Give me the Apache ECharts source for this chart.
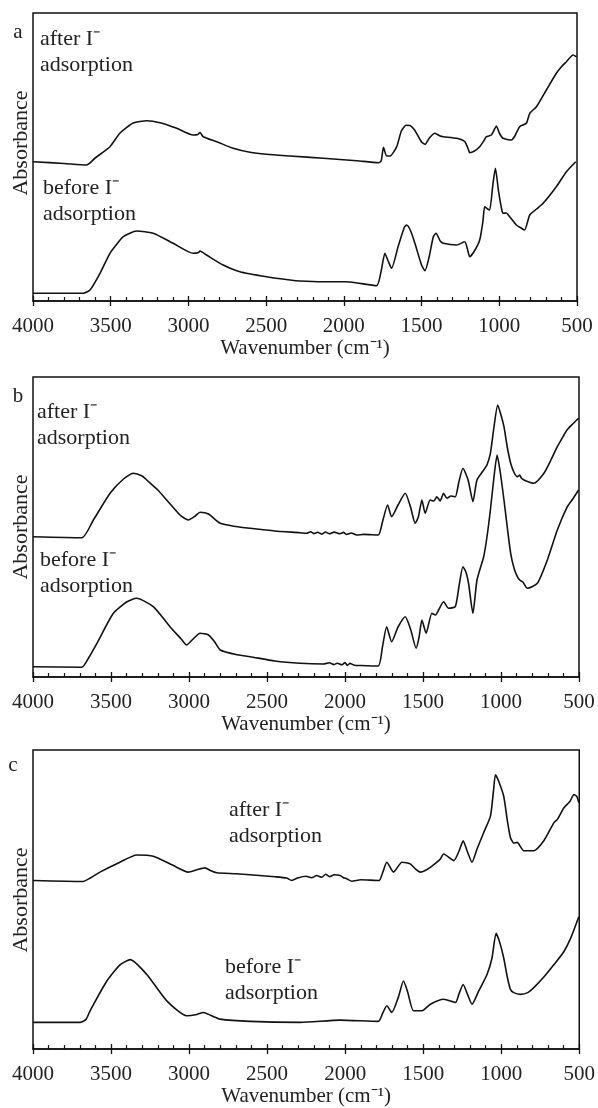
<!DOCTYPE html>
<html>
<head>
<meta charset="utf-8">
<script src="https://cdn.jsdelivr.net/npm/echarts@6/dist/echarts.min.js"></script>
<style>
html,body{margin:0;padding:0;background:#fff;}
#chart{width:598px;height:1108px;}
</style>
</head>
<body>
<div id="chart"></div>
<script>
// ---------- data (wavenumber in cm^-1, absorbance in arbitrary units) ----------
const xTicks = [4000, 3500, 3000, 2500, 2000, 1500, 1000, 500];
const panelLetters = ['a', 'b', 'c'];
const afterLabel = 'after I\u207B\nadsorption';
const beforeLabel = 'before I\u207B\nadsorption';
const xTitle = 'Wavenumber (cm\u207B\u00B9)';
const yTitle = 'Absorbance';

const aAfterWn  = [4000,3800,3655,3600,3505,3440,3355,3268,3183,3075,2970,2940,2926,2905,2818,2712,2604,2497,2346,2132,1917,1778,1760,1745,1725,1703,1660,1630,1600,1574,1550,1532,1500,1478,1450,1414,1380,1360,1274,1222,1200,1190,1160,1126,1100,1083,1051,1030,1019,1000,976,922,900,869,826,804,761,697,633,600,568,525,503];
const aAfterAbs = [139.3,137.5,136,143,154.3,168,178,180.3,178.3,172.7,166,166.5,168.5,164.3,159.3,152.7,148.7,146.7,145,142.7,140.3,138.3,140,153.7,145,145,154.3,170,175.7,175.5,172,167.7,159,156.7,163,167.7,165,164.3,162.7,159.3,152,148.3,150,154.3,160,164.3,166,172,175,168,162.7,161,165,174.3,177.7,187.7,194.3,211,227.7,234.3,239.3,246,244.3];

const aBeforeWn  = [4000,3676,3633,3569,3505,3460,3419,3333,3227,3098,2969,2935,2926,2884,2777,2669,2497,2346,2284,2132,1983,1790,1760,1736,1715,1693,1650,1610,1596,1570,1543,1500,1478,1450,1425,1407,1380,1360,1274,1222,1205,1190,1160,1126,1105,1094,1075,1062,1040,1025,1005,985,976,955,933,890,860,837,804,760,718,633,568,508];
const aBeforeAbs = [7.7,7.7,11,27.7,47.7,57,64.3,70,67.7,57.7,47.7,48.5,50,46,36,29.3,24.3,21,20,19.3,19.3,15.3,30,47.7,40,32.7,55,74,76,70,57.7,36,30.3,45,64,67.7,60,57.7,56,59.3,52,44.3,50,61,80,94.3,92,91,118,132.7,110,92,87.7,88,84.3,76,73,71,86,92,97.7,114.3,129.3,139.3];

const bAfterWn  = [4000,3687,3613,3506,3420,3357,3300,3271,3200,3143,3058,3004,2960,2929,2875,2800,2700,2608,2450,2288,2246,2220,2200,2175,2150,2125,2100,2070,2032,2010,1990,1960,1925,1880,1787,1760,1727,1701,1660,1614,1580,1550,1530,1507,1486,1454,1430,1411,1390,1368,1347,1320,1293,1270,1244,1225,1208,1180,1154,1111,1090,1068,1045,1021,1000,981,960,938,915,895,880,870,853,789,725,680,639,600,577,540,503];
const bAfterAbs = [140.3,139.3,157,183.7,198,203.7,201,197,187,177,162,157,161,164.7,163,153.7,150.5,148.7,146,144.3,143.7,145.2,143.4,144.8,142.9,145,143.2,144.9,143.3,144.6,142.5,144,142,142.6,142,155,172,160.3,172,183.7,170,153.7,160,177,163.7,177,176,180.3,176,183.7,178.7,181,180.3,195,208.7,203,195.3,175.3,197,207,212,223.7,250,272,262,250.3,230,213.7,204,200.3,202,199,197,193.7,203.7,217,230.3,241,247,253,258.7];

const bBeforeWn  = [4000,3688,3640,3590,3485,3400,3336,3229,3122,3050,3015,2980,2929,2875,2835,2800,2700,2608,2450,2288,2139,2100,2070,2050,2020,2000,1985,1968,1940,1900,1787,1760,1733,1701,1660,1614,1580,1544,1525,1507,1480,1443,1420,1400,1368,1336,1293,1270,1244,1225,1208,1180,1154,1111,1090,1068,1045,1025,1005,981,960,938,915,895,880,860,831,767,703,639,575,540,503];
const bBeforeAbs = [10.3,9.7,20,33.7,63.7,75,78.7,70.3,50.3,38,32,37,43.7,42,35,27,22.5,20.3,16,13.7,13,14.2,12.4,13.8,12.2,14.5,11.6,13.6,11.8,11.5,11,30,50.3,35.3,50,60.3,48,28.7,40,57,43.7,63.7,62,67,75.3,68.7,70.3,90,110.3,105,93.7,63.7,97,120.3,140,167,200,222,205,177,150,123.7,108,100.3,97,95,88.7,93.7,117,147,170.3,178,187];

const cAfterWn  = [4000,3678,3630,3571,3443,3336,3229,3101,3005,2950,2898,2860,2823,2700,2610,2450,2375,2343,2300,2250,2215,2182,2150,2125,2100,2070,2032,2010,1990,1957,1900,1783,1760,1733,1690,1636,1583,1550,1519,1487,1450,1412,1390,1369,1304,1270,1244,1219,1187,1155,1112,1069,1050,1037,1015,984,960,941,920,898,855,791,727,662,640,598,560,534,515,503];
const cAfterAbs = [170.3,169.3,173,178.7,188.7,196,194.7,185.3,178.7,181,183,180,178,177,176,174,172.7,170.3,173,174.5,173,175.3,173.5,176.5,174,176,175.3,173,172,169.5,171,170.3,178,188.7,178.7,188.7,187,182,178.7,180.3,184,188.7,192,197,190.3,200,210.3,200.3,188.7,202,218.7,235.3,260,277,270,255.3,230,213.7,208,208.7,200.3,200.3,210.3,228.7,232,243.7,250,257,255,248.7];

const cBeforeWn  = [4000,3698,3660,3634,3527,3441,3377,3271,3143,3015,2950,2908,2860,2801,2610,2288,2032,1787,1760,1733,1701,1660,1626,1600,1562,1507,1454,1368,1293,1270,1244,1215,1187,1144,1091,1059,1033,1010,984,960,941,920,877,830,791,720,662,600,555,503];
const cBeforeAbs = [27,27,30,38.7,68.7,85.3,90.3,75.3,48.7,33.7,35,37,34,30.3,28,27,29.3,28,36,43.7,37,52,68.7,58,38.7,38.7,45.3,50.3,47,56,65.3,55,45.3,58.7,75.3,92,117,108,92,72,60.3,57,55.3,57,62,74,85.3,98,112,133.7];

// ---------- layout & style ----------
const FONT = '"Liberation Serif","Times New Roman",serif';
const INK = '#111';
const TXT = '#222';
const grids = [
  {left: 33, top: 13,  width: 544, height: 288, ymax: 288},
  {left: 33, top: 377, width: 546, height: 300, ymax: 300},
  {left: 33, top: 750, width: 547, height: 302, ymax: 302}
];
const panels = [
  {after: [aAfterWn, aAfterAbs], before: [aBeforeWn, aBeforeAbs]},
  {after: [bAfterWn, bAfterAbs], before: [bBeforeWn, bBeforeAbs]},
  {after: [cAfterWn, cAfterAbs], before: [cBeforeWn, cBeforeAbs]}
];
const zip = (w, v) => w.map((x, i) => [x, v[i]]);

const option = {
  backgroundColor: '#fff',
  animation: false,
  grid: [], xAxis: [], yAxis: [], series: [], graphic: []
};

grids.forEach((g, i) => {
  option.grid.push({left: g.left, top: g.top, width: g.width, height: g.height,
    show: true, borderColor: INK, borderWidth: 1.5, backgroundColor: 'transparent'});
  // main x axis: labels, inward major + minor ticks
  option.xAxis.push({
    gridIndex: i, type: 'value', position: 'bottom', inverse: true,
    min: xTicks[xTicks.length - 1], max: xTicks[0], interval: 500,
    axisLine: {lineStyle: {color: INK, width: 1.5}},
    axisTick: {show: true, inside: true, length: 5, lineStyle: {color: INK, width: 1.3}},
    minorTick: {show: true, splitNumber: 5, length: 4, lineStyle: {color: INK, width: 1.2}},
    axisLabel: {margin: 15, fontSize: 21, fontFamily: FONT, color: TXT,
      formatter: v => String(v)},
    splitLine: {show: false},
    name: xTitle, nameLocation: 'middle', nameGap: 34,
    nameTextStyle: {fontSize: 21, fontFamily: FONT, color: TXT}
  });
  // helper x axis: outward major ticks only
  option.xAxis.push({
    gridIndex: i, type: 'value', position: 'bottom', inverse: true,
    min: xTicks[xTicks.length - 1], max: xTicks[0], interval: 500,
    axisLine: {show: false},
    axisTick: {show: true, inside: false, length: 5, lineStyle: {color: INK, width: 1.3}},
    axisLabel: {show: false}, splitLine: {show: false}
  });
  option.yAxis.push({gridIndex: i, type: 'value', min: 0, max: g.ymax, show: false});
  ['after', 'before'].forEach(k => {
    option.series.push({
      type: 'line', name: panelLetters[i] + ' ' + k,
      xAxisIndex: 2 * i, yAxisIndex: i,
      data: zip(panels[i][k][0], panels[i][k][1]),
      showSymbol: false, smooth: 0.2,
      lineStyle: {color: INK, width: 1.6}
    });
  });
});

// texts
const txt = (x, y, text, extra) => ({
  type: 'text', x: x, y: y,
  style: Object.assign({text: text, font: '22px ' + FONT, fill: TXT, lineHeight: 26,
    textAlign: 'left', textVerticalAlign: 'top'}, extra || {})
});
const letterPos = [[18, 32], [18, 396], [13, 765]];
const afterPos = [[40, 26], [37, 399], [229, 797]];
const beforePos = [[43, 175], [40, 547], [225, 954]];
const absCenter = [143, 527, 900];
for (let i = 0; i < 3; i++) {
  option.graphic.push(txt(letterPos[i][0], letterPos[i][1], panelLetters[i],
    {textAlign: 'center', textVerticalAlign: 'middle', font: '21px ' + FONT}));
  option.graphic.push(txt(afterPos[i][0], afterPos[i][1], afterLabel));
  option.graphic.push(txt(beforePos[i][0], beforePos[i][1], beforeLabel));
  option.graphic.push({
    type: 'text', x: 21, y: absCenter[i], rotation: Math.PI / 2,
    style: {text: yTitle, font: '22px ' + FONT, fill: TXT,
      textAlign: 'center', textVerticalAlign: 'middle'}
  });
}

const chart = echarts.init(document.getElementById('chart'), null, {renderer: 'canvas'});
chart.setOption(option);
</script>
</body>
</html>
